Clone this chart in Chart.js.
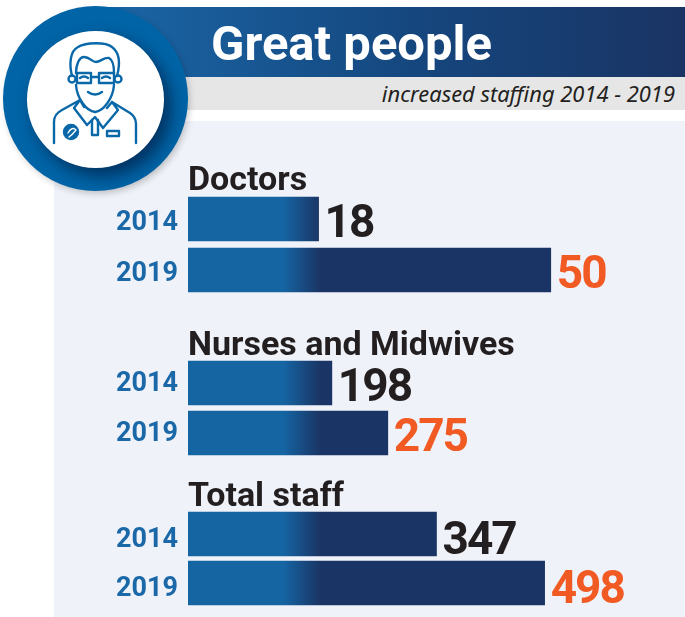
<!DOCTYPE html>
<html><head><meta charset="utf-8">
<script src="https://cdn.jsdelivr.net/npm/chart.js@4"></script>
<style>
html,body{margin:0;padding:0;background:#fff;}
#stage{position:relative;width:685px;height:617px;overflow:hidden;font-family:"Roboto",sans-serif;}
#panel{position:absolute;left:54px;top:121px;width:631px;height:496px;background:#eff2f8;}
#banner{position:absolute;left:100px;top:7px;width:585px;height:70px;background:linear-gradient(90deg,#1a66a6 0%,#15467d 55%,#1a3464 100%);}
#grey{position:absolute;left:100px;top:77px;width:585px;height:33px;background:#e6e6e6;}
#t1{position:absolute;left:211px;top:14px;color:#fff;font:700 49px/60px "Roboto",sans-serif;white-space:nowrap;}
#t2{position:absolute;right:10px;top:80px;color:#231f20;font:italic 400 21.9px/28px "Noto Sans",sans-serif;white-space:nowrap;}
#ring{position:absolute;left:3px;top:6px;width:185px;height:185px;border-radius:50%;background:#0064a6;box-shadow:2px 3px 6px rgba(0,0,0,.18);}
#disc{position:absolute;left:27px;top:31px;width:137px;height:137px;border-radius:50%;background:#fff;box-shadow:7px 8px 16px rgba(0,10,40,.55);}
#icon{position:absolute;left:0;top:0;}
.wrap{position:absolute;left:0;width:685px;}
</style></head>
<body><div id="stage">
<div id="panel"></div><div id="banner"></div><div id="grey"></div>
<div id="t1">Great people</div><div id="t2">increased staffing 2014 - 2019</div>
<div id="ring"></div><div id="disc"></div>
<svg id="icon" width="190" height="190" fill="none" stroke="#0a68a8" stroke-width="2.4" stroke-linecap="round" stroke-linejoin="round">
<path d="M72 76C69 64 70 51 78 47C86 42 106 42 112 47C120 53 120 65 117 76"/>
<path d="M76 73C76 65 79 57 84 57C90 57 92 62 96 62C100 62 104 57 109 58C113 60 114 66 114 73"/>
<path d="M76 85C77 98 86 111 95 112C104 111 113 98 114 85"/>
<circle cx="72" cy="79" r="3.5"/><circle cx="118" cy="79" r="3.5"/>
<rect x="77" y="73" width="14" height="10"/><rect x="99" y="73" width="15" height="10"/>
<path d="M91 77H99M80 78Q84 75 88 78M102 78Q106 75 110 78"/>
<path d="M88 92Q95 97 102 92"/>
<path d="M54 143V122Q54 114 62 110L80 100L74 108L87 125L95 117L103 128L118 110L112 102L130 113Q136 117 136 124V143"/>
<path d="M80 100L84 107M112 102L107 108"/>
<path d="M92 120V135H98V120"/><rect x="107" y="131" width="12" height="5"/>
<circle cx="71" cy="132" r="7" fill="#0a68a8"/><path d="M68 133Q72 126 76 130Q72 135 69 137" stroke="#fff" stroke-width="1.4"/>
</svg>
<div class="wrap" style="top:150px;height:146px"><canvas id="c1"></canvas></div>
<div class="wrap" style="top:315px;height:143px"><canvas id="c2"></canvas></div>
<div class="wrap" style="top:467px;height:141px"><canvas id="c3"></canvas></div>
</div>
<script>
const years = ["2014", "2019"];
const doctors = [18, 50];
const nurses = [198, 275];
const totalStaff = [347, 498];
const sectionTitles = ["Doctors", "Nurses and Midwives", "Total staff"];
const axisMax = [68.5, 684, 694];
const valueColors = ["#231f20", "#f15a22"];
const BLUE = "#1565a3", NAVY = "#1a3565";

const valueLabels = {
  id: "valueLabels",
  afterDatasetsDraw(chart) {
    const ctx = chart.ctx;
    const meta = chart.getDatasetMeta(0);
    const ds = chart.data.datasets[0];
    ctx.save();
    ctx.font = '700 46px "Roboto", sans-serif';
    ctx.letterSpacing = "-2px";
    ctx.textBaseline = "middle";
    ctx.textAlign = "left";
    meta.data.forEach((bar, i) => {
      ctx.fillStyle = valueColors[i];
      ctx.fillText(String(ds.data[i]), bar.x + 6, bar.y + chart.options.valueDy);
    });
    ctx.restore();
  }
};

function barFill(context) {
  const g = context.chart.ctx.createLinearGradient(283, 0, 320, 0);
  g.addColorStop(0, BLUE);
  g.addColorStop(1, NAVY);
  return g;
}

function makeChart(id, values, title, max, padTop, padBottom, tickDy, valueDy) {
  const c = document.getElementById(id);
  c.style.display = "block";
  new Chart(c, {
    type: "bar",
    plugins: [valueLabels],
    data: { labels: years, datasets: [{ data: values, backgroundColor: barFill, barThickness: 44, borderWidth: 0 }] },
    options: {
      valueDy: valueDy,
      indexAxis: "y",
      responsive: false,
      maintainAspectRatio: false,
      animation: false,
      devicePixelRatio: 1,
      layout: { padding: { top: padTop, bottom: padBottom, left: 0, right: 0 } },
      plugins: {
        legend: { display: false },
        tooltip: { enabled: false },
        title: {
          display: true, text: title, align: "start", fullSize: false,
          color: "#231f20", font: { family: "Roboto", weight: "700", size: 34, lineHeight: 0.68 },
          padding: { top: 0, bottom: 0 }
        }
      },
      scales: {
        x: { display: false, min: 0, max: max, grid: { display: false } },
        y: {
          afterFit(s) { s.width = 188; s.paddingTop = 0; s.paddingBottom = 0; },
          grid: { display: false, drawBorder: false }, border: { display: false },
          ticks: { color: "#1b68a8", padding: 2, labelOffset: tickDy, font: { family: "Roboto", weight: "700", size: 27 } }
        }
      }
    }
  });
}
function size(id, h) { const c = document.getElementById(id); c.width = 685; c.height = h; c.style.width = "685px"; c.style.height = h + "px"; }
size("c1", 146); size("c2", 143); size("c3", 141);
makeChart("c1", doctors, sectionTitles[0], axisMax[0], 20.4, 0.5, 4, 6);
makeChart("c2", nurses, sectionTitles[1], axisMax[1], 19.9, 0, 1.5, 6);
makeChart("c3", totalStaff, sectionTitles[2], axisMax[2], 19.4, 0.5, 6.5, 8);
</script>
</body></html>
